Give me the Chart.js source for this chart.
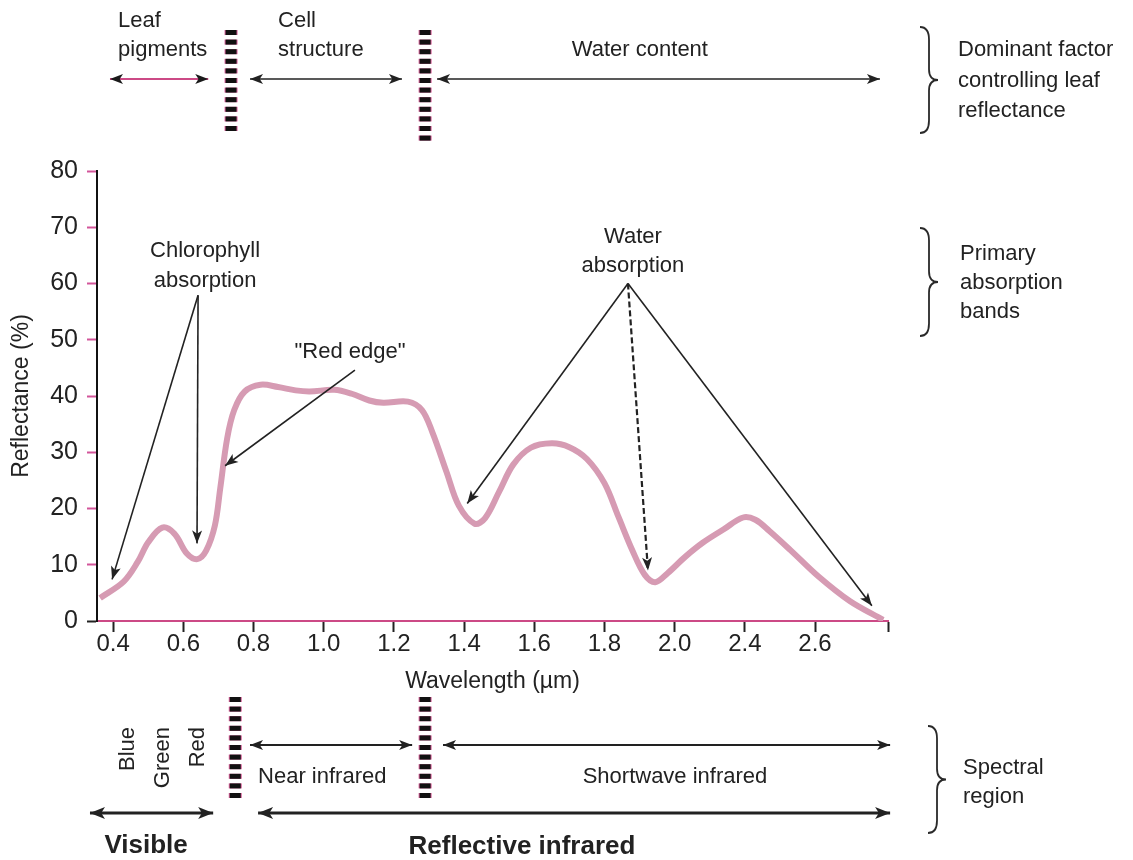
<!DOCTYPE html>
<html>
<head>
<meta charset="utf-8">
<title>Leaf spectral reflectance</title>
<script src="https://cdn.jsdelivr.net/npm/chart.js@4.4.1/dist/chart.umd.min.js"></script>
<style>
  html, body { margin: 0; padding: 0; background: #ffffff; }
  #wrap { width: 1133px; height: 860px; position: relative; }
</style>
</head>
<body>
<div id="wrap"><canvas id="chart" width="1133" height="860"></canvas></div>
<script>
// Typical green-leaf reflectance curve (wavelength in axis units, reflectance in %)
const wavelength = [
  0.363, 0.43, 0.47, 0.50, 0.54, 0.575, 0.61, 0.64, 0.665, 0.69,
  0.705, 0.725, 0.745, 0.775, 0.82, 0.87, 0.92, 0.96, 1.03, 1.08,
  1.13, 1.17, 1.24, 1.28, 1.31, 1.35, 1.385, 1.43, 1.46, 1.50,
  1.54, 1.59, 1.65, 1.70, 1.75, 1.80, 1.84, 1.88, 1.915, 1.945,
  1.98, 2.03, 2.08, 2.14, 2.195, 2.23, 2.27, 2.33, 2.41, 2.50, 2.594
];
const reflectance = [
  4.1, 7.0, 10.5, 14.0, 16.6, 15.5, 12.0, 11.0, 12.5, 17.0,
  23.5, 32.5, 37.5, 40.8, 42.0, 41.6, 41.0, 40.8, 41.1, 40.4,
  39.2, 38.8, 39.0, 37.5, 33.5, 26.5, 20.5, 17.3, 18.3, 23.0,
  27.8, 30.8, 31.6, 30.9, 28.8, 24.5, 18.5, 12.5, 8.2, 6.9,
  8.5, 11.4, 13.9, 16.3, 18.4, 18.0, 16.0, 12.6, 7.9, 3.5, 0.2
];

// Axis ticks
const xTickValues = [0.4, 0.6, 0.8, 1.0, 1.2, 1.4, 1.6, 1.8, 2.0, 2.2, 2.4];
const xTickLabels = ['0.4', '0.6', '0.8', '1.0', '1.2', '1.4', '1.6', '1.8', '2.0', '2.4', '2.6'];
const yTickValues = [0, 10, 20, 30, 40, 50, 60, 70, 80];

const X_MIN = 0.354, X_MAX = 2.608;

const points = wavelength.map((w, i) => ({ x: w, y: reflectance[i] }));

const FONT = '"Liberation Sans", Arial, Helvetica, sans-serif';
const INK = '#222222';
const PINK = '#cc4a86';

// ---- drawing helpers for the explanatory diagram around the plot ----
function arrowHead(ctx, x1, y1, x2, y2, len, half) {
  const a = Math.atan2(y2 - y1, x2 - x1);
  ctx.beginPath();
  ctx.moveTo(x2, y2);
  ctx.lineTo(x2 - len * Math.cos(a) + half * Math.sin(a), y2 - len * Math.sin(a) - half * Math.cos(a));
  ctx.lineTo(x2 - len * 0.75 * Math.cos(a), y2 - len * 0.75 * Math.sin(a));
  ctx.lineTo(x2 - len * Math.cos(a) - half * Math.sin(a), y2 - len * Math.sin(a) + half * Math.cos(a));
  ctx.closePath();
  ctx.fill();
}

function arrow(ctx, x1, y1, x2, y2, opt) {
  const o = Object.assign({ color: INK, width: 1.6, head: 13, half: 5, both: false, dash: null, headColor: null }, opt || {});
  ctx.save();
  ctx.strokeStyle = o.color;
  ctx.lineWidth = o.width;
  if (o.dash) ctx.setLineDash(o.dash);
  ctx.beginPath();
  ctx.moveTo(x1, y1);
  ctx.lineTo(x2, y2);
  ctx.stroke();
  ctx.setLineDash([]);
  ctx.fillStyle = o.headColor || (o.color === INK ? INK : '#1a1a1a');
  arrowHead(ctx, x1, y1, x2, y2, o.head, o.half);
  if (o.both) arrowHead(ctx, x2, y2, x1, y1, o.head, o.half);
  ctx.restore();
}

function dashedBar(ctx, x, y0, y1) {
  ctx.save();
  for (let y = y0; y + 4 <= y1; y += 9.6) {
    ctx.fillStyle = '#d8609a';
    ctx.fillRect(x - 6.5, y, 13, 5);
    ctx.fillStyle = '#111111';
    ctx.fillRect(x - 5.5, y, 11, 5);
  }
  ctx.restore();
}

function brace(ctx, x, top, bottom, w) {
  const mid = (top + bottom) / 2;
  const r = w / 2;
  ctx.save();
  ctx.strokeStyle = '#2a2a2a';
  ctx.lineWidth = 1.8;
  ctx.beginPath();
  ctx.moveTo(x, top);
  ctx.quadraticCurveTo(x + r, top, x + r, top + r * 1.4);
  ctx.lineTo(x + r, mid - r * 1.2);
  ctx.quadraticCurveTo(x + r, mid, x + w, mid);
  ctx.quadraticCurveTo(x + r, mid, x + r, mid + r * 1.2);
  ctx.lineTo(x + r, bottom - r * 1.4);
  ctx.quadraticCurveTo(x + r, bottom, x, bottom);
  ctx.stroke();
  ctx.restore();
}

function text(ctx, str, x, y, opt) {
  const o = Object.assign({ size: 22, weight: 'normal', align: 'left', rotate: 0, color: INK }, opt || {});
  ctx.save();
  ctx.font = `${o.weight} ${o.size}px ${FONT}`;
  ctx.fillStyle = o.color;
  ctx.textAlign = o.align;
  ctx.textBaseline = 'middle';
  ctx.translate(x, y);
  if (o.rotate) ctx.rotate(o.rotate);
  ctx.fillText(str, 0, 0);
  ctx.restore();
}

const diagramPlugin = {
  id: 'leafDiagram',
  afterDatasetsDraw(chart) {
    const ctx = chart.ctx;
    const xs = v => chart.scales.x.getPixelForValue(v);
    const ys = v => chart.scales.y.getPixelForValue(v);

    // --- annotations inside the plot ---
    text(ctx, 'Chlorophyll', xs(0.662), ys(65.8), { align: 'center' });
    text(ctx, 'absorption', xs(0.662), ys(60.4), { align: 'center' });
    arrow(ctx, xs(0.642), ys(57.9), xs(0.397), ys(7.4));
    arrow(ctx, xs(0.642), ys(57.9), xs(0.639), ys(13.8));

    text(ctx, '"Red edge"', xs(1.075), ys(47.8), { align: 'center' });
    arrow(ctx, xs(1.089), ys(44.6), xs(0.719), ys(27.6));

    text(ctx, 'Water', xs(1.881), ys(68.3), { align: 'center' });
    text(ctx, 'absorption', xs(1.881), ys(63.1), { align: 'center' });
    arrow(ctx, xs(1.867), ys(60.0), xs(1.409), ys(20.9));
    arrow(ctx, xs(1.867), ys(60.0), xs(1.924), ys(9.0), { dash: [6, 3], width: 2.2 });
    arrow(ctx, xs(1.867), ys(60.0), xs(2.562), ys(2.7));

    // --- dominant factor controlling leaf reflectance (top band) ---
    text(ctx, 'Leaf', xs(0.414), 21);
    text(ctx, 'pigments', xs(0.414), 50);
    arrow(ctx, xs(0.391), 79, xs(0.671), 79, { both: true, color: PINK, headColor: '#1a1a1a', width: 1.8 });
    dashedBar(ctx, xs(0.736), 30, 132);
    text(ctx, 'Cell', xs(0.870), 21);
    text(ctx, 'structure', xs(0.870), 50);
    arrow(ctx, xs(0.790), 79, xs(1.223), 79, { both: true });
    dashedBar(ctx, xs(1.289), 30, 140);
    text(ctx, 'Water content', xs(1.901), 50, { align: 'center' });
    arrow(ctx, xs(1.323), 79, xs(2.585), 79, { both: true });

    brace(ctx, 920, 27, 133, 18);
    text(ctx, 'Dominant factor', 958, 50);
    text(ctx, 'controlling leaf', 958, 81);
    text(ctx, 'reflectance', 958, 111);

    brace(ctx, 920, 228, 336, 18);
    text(ctx, 'Primary', 960, 254);
    text(ctx, 'absorption', 960, 283);
    text(ctx, 'bands', 960, 312);

    // --- spectral region (bottom band) ---
    text(ctx, 'Blue', xs(0.443), 727, { rotate: -Math.PI / 2, align: 'right' });
    text(ctx, 'Green', xs(0.542), 727, { rotate: -Math.PI / 2, align: 'right' });
    text(ctx, 'Red', xs(0.642), 727, { rotate: -Math.PI / 2, align: 'right' });
    dashedBar(ctx, xs(0.748), 697, 800);
    arrow(ctx, xs(0.790), 745, xs(1.252), 745, { both: true, width: 2 });
    text(ctx, 'Near infrared', xs(0.813), 777);
    dashedBar(ctx, xs(1.289), 697, 800);
    arrow(ctx, xs(1.340), 745, xs(2.614), 745, { both: true, width: 2 });
    text(ctx, 'Shortwave infrared', xs(2.001), 777, { align: 'center' });

    arrow(ctx, xs(0.334), 813, xs(0.685), 813, { both: true, width: 3, head: 15, half: 6 });
    arrow(ctx, xs(0.813), 813, xs(2.614), 813, { both: true, width: 3, head: 15, half: 6 });
    text(ctx, 'Visible', xs(0.494), 846, { weight: 'bold', size: 26, align: 'center' });
    text(ctx, 'Reflective infrared', xs(1.565), 847, { weight: 'bold', size: 26, align: 'center' });

    brace(ctx, 928, 726, 833, 18);
    text(ctx, 'Spectral', 963, 768);
    text(ctx, 'region', 963, 797);
  }
};

new Chart(document.getElementById('chart'), {
  type: 'line',
  data: {
    datasets: [
      {
        label: 'Reflectance outline',
        data: points,
        borderColor: '#d69bb3',
        borderWidth: 6,
        pointRadius: 0,
        tension: 0.35,
        fill: false
      },
      {
        label: 'Reflectance',
        data: points,
        borderColor: '#f7b9cf',
        borderWidth: 4,
        pointRadius: 0,
        tension: 0.35,
        fill: false
      }
    ]
  },
  options: {
    responsive: false,
    animation: false,
    events: [],
    layout: { padding: { top: 171, right: 245, left: 0, bottom: 0 } },
    plugins: { legend: { display: false }, tooltip: { enabled: false }, title: { display: false } },
    scales: {
      x: {
        type: 'linear',
        min: X_MIN,
        max: X_MAX,
        afterBuildTicks: s => { s.ticks = xTickValues.map(v => ({ value: v })).concat([{ value: X_MAX }]); },
        afterFit: s => { s.height = 239; },
        ticks: {
          autoSkip: false,
          maxRotation: 0,
          padding: -2,
          color: INK,
          font: { family: FONT, size: 24 },
          callback: (v, i) => (i < xTickLabels.length ? xTickLabels[i] : '')
        },
        grid: { drawOnChartArea: false, drawTicks: true, tickLength: 11, color: INK, tickWidth: 2 },
        border: { color: PINK, width: 2 },
        title: {
          display: true,
          text: 'Wavelength (µm)',
          color: INK,
          font: { family: FONT, size: 23 },
          padding: { top: 0, bottom: 165 }
        }
      },
      y: {
        min: 0,
        max: 80,
        afterBuildTicks: s => { s.ticks = yTickValues.map(v => ({ value: v })); },
        afterFit: s => { s.width = 97; },
        ticks: {
          padding: 9,
          color: INK,
          font: { family: FONT, size: 25 }
        },
        grid: {
          drawOnChartArea: false,
          drawTicks: true,
          tickLength: 10,
          tickWidth: 2,
          color: c => (c.tick && c.tick.value === 0 ? INK : '#d2559a')
        },
        border: { color: '#111111', width: 2 },
        title: {
          display: true,
          text: 'Reflectance (%)',
          color: INK,
          font: { family: FONT, size: 23 },
          padding: { top: 8, bottom: 0 }
        }
      }
    }
  },
  plugins: [diagramPlugin]
});
</script>
</body>
</html>
